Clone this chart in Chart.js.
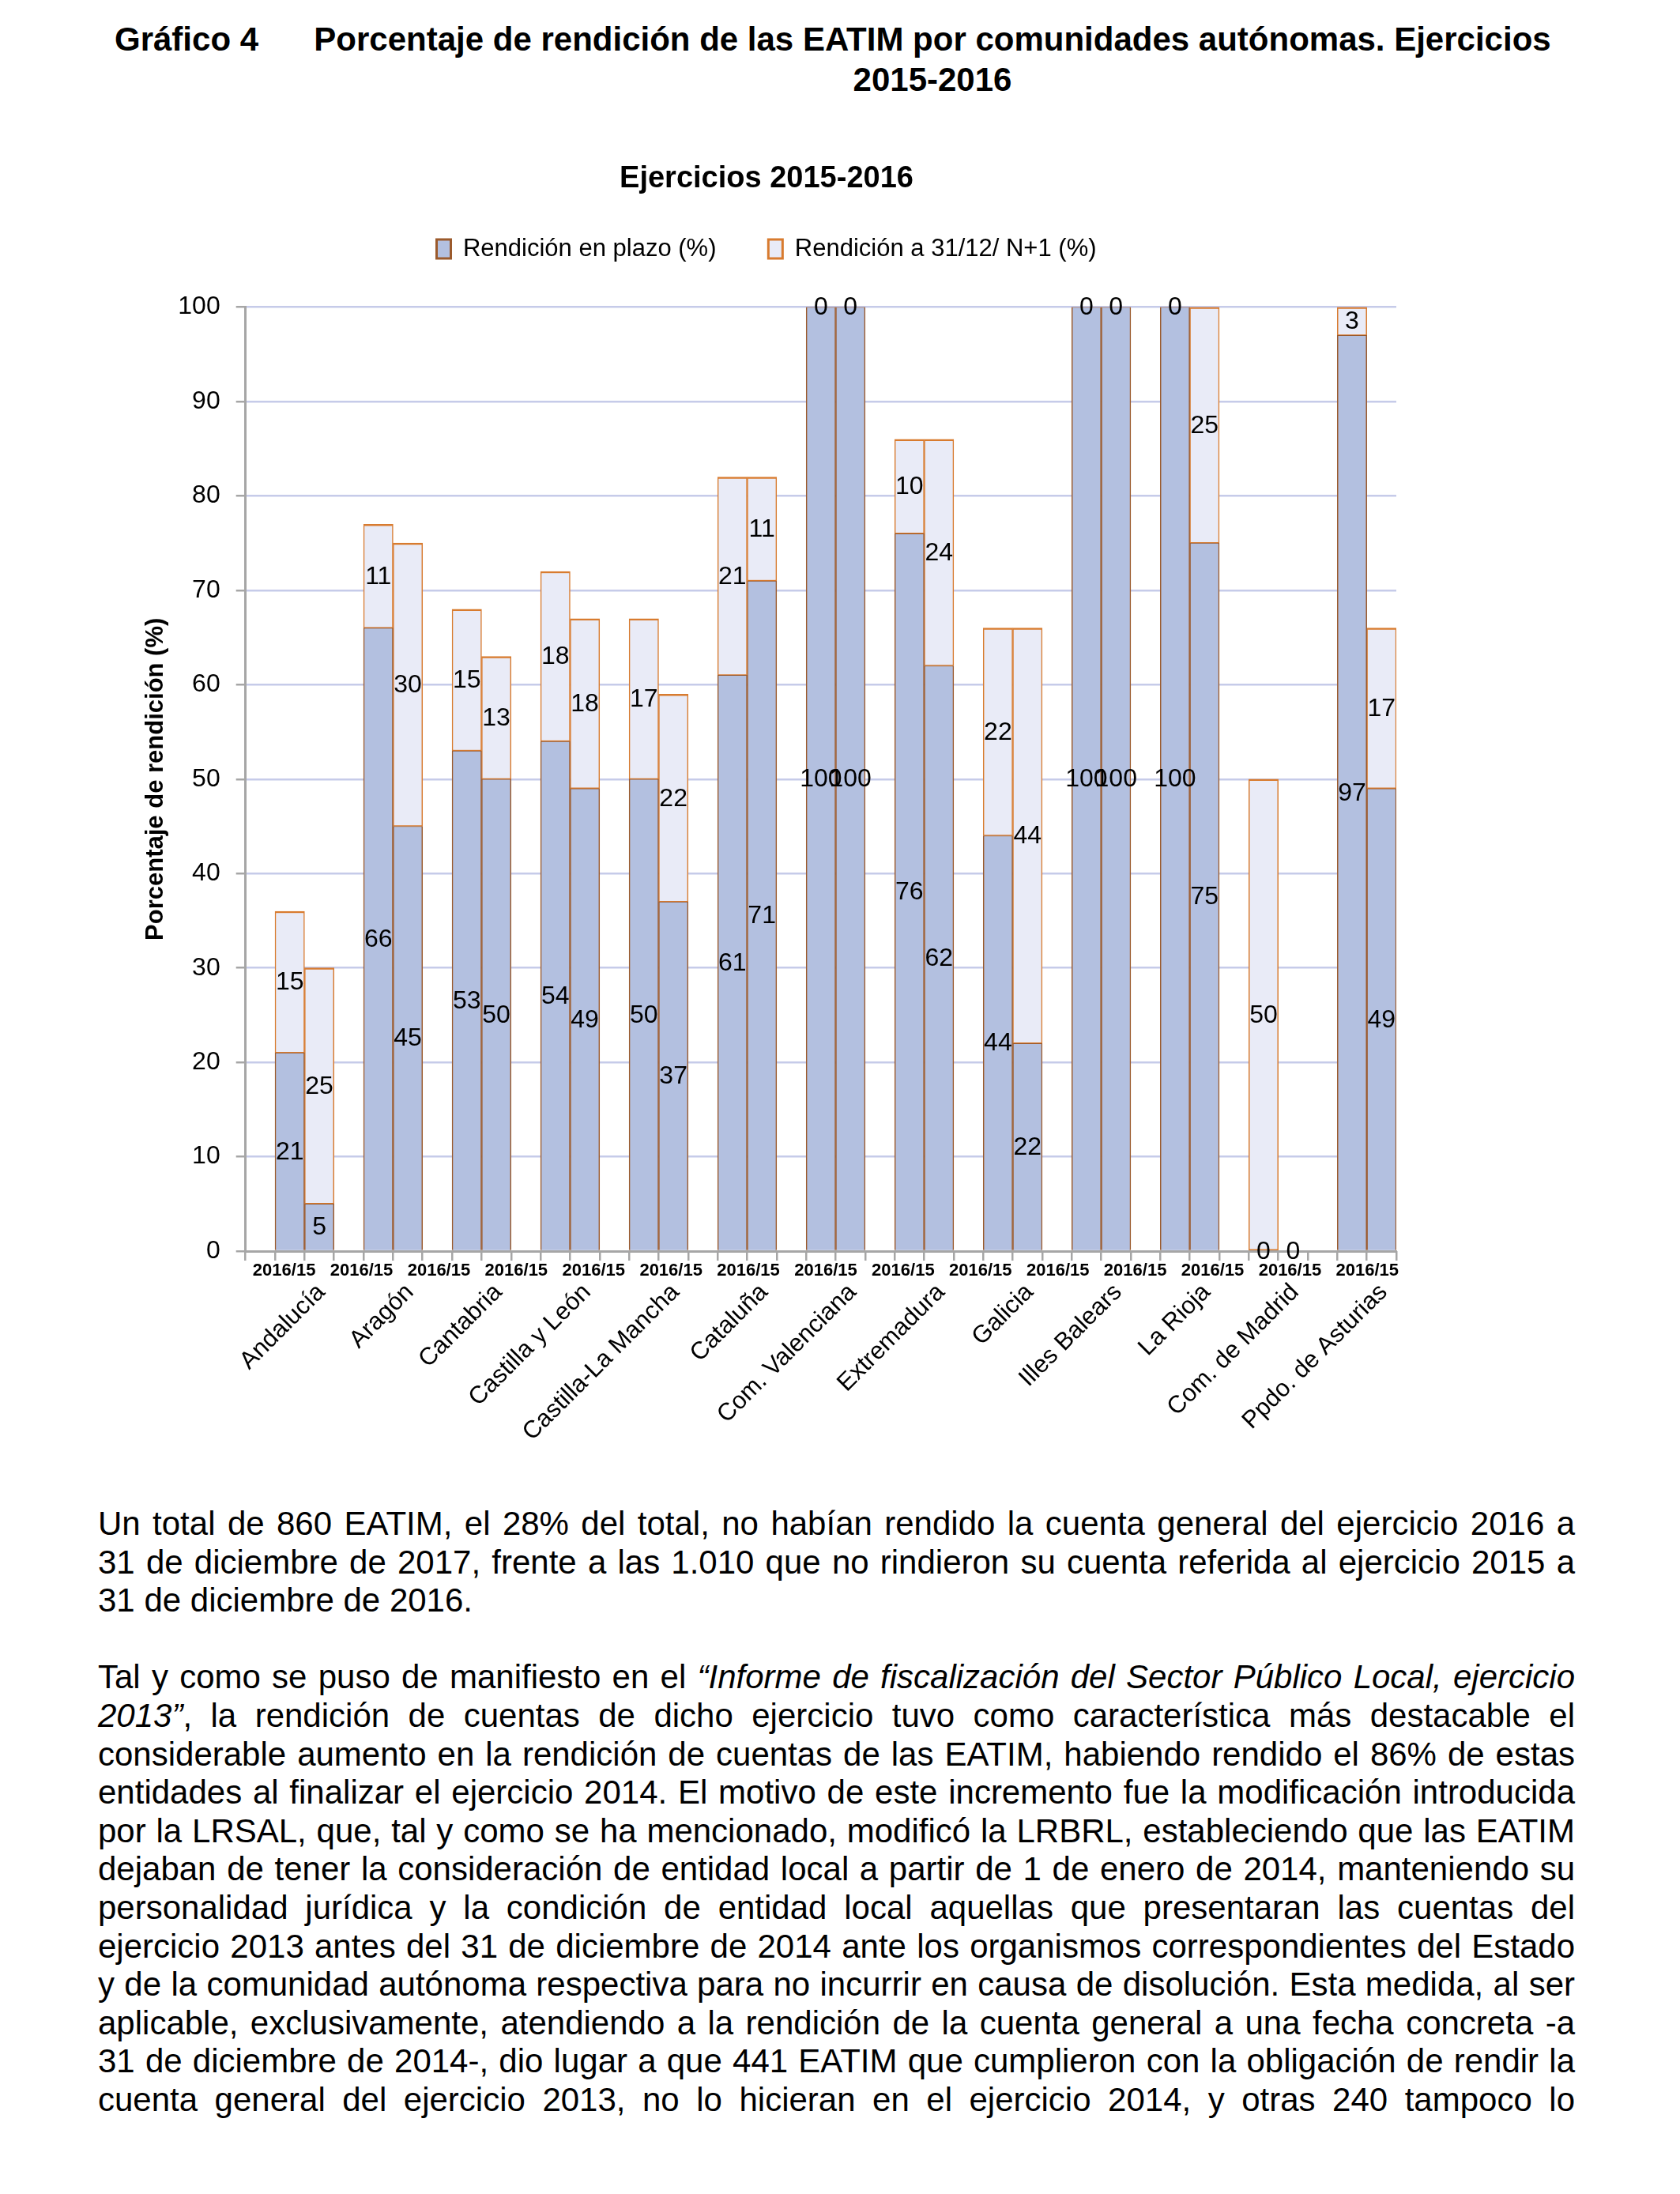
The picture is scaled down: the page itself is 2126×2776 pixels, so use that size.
<!DOCTYPE html>
<html lang="es">
<head>
<meta charset="utf-8">
<title>Gráfico 4</title>
<script src="https://cdn.jsdelivr.net/npm/chart.js@4.4.1/dist/chart.umd.min.js"></script>
<style>
  html, body { margin: 0; padding: 0; background: #fff; }
  body { width: 2126px; height: 2776px; position: relative; overflow: hidden;
         font-family: "Liberation Sans", Arial, sans-serif; color: #000; }
  .cap { position: absolute; top: 24px; font-weight: bold; font-size: 42px; line-height: 51px; white-space: nowrap; }
  #capNum { left: 145px; }
  #capTxt { left: 393px; width: 1574px; text-align: center; }
  #caja { position: absolute; left: 173px; top: 190px; width: 1634px; height: 1672px; }
  #texto { position: absolute; left: 124px; top: 1904px; width: 1869px; font-size: 42px; line-height: 48.6px; }
  #texto div { text-align: justify; text-align-last: justify; }
  #texto div.fin { text-align-last: left; }
  #texto .sep { height: 48.6px; }
</style>
</head>
<body>

<div class="cap" id="capNum">Gráfico 4</div>
<div class="cap" id="capTxt">Porcentaje de rendición de las EATIM por comunidades autónomas. Ejercicios<br>2015-2016</div>

<div id="caja"><canvas id="grafico"></canvas></div>

<div id="texto">
  <div>Un total de 860 EATIM, el 28% del total, no habían rendido la cuenta general del ejercicio 2016 a</div>
  <div>31 de diciembre de 2017, frente a las 1.010 que no rindieron su cuenta referida al ejercicio 2015 a</div>
  <div class="fin">31 de diciembre de 2016.</div>
  <div class="sep"></div>
  <div>Tal y como se puso de manifiesto en el <i>“Informe de fiscalización del Sector Público Local, ejercicio</i></div>
  <div><i>2013”</i>, la rendición de cuentas de dicho ejercicio tuvo como característica más destacable el</div>
  <div>considerable aumento en la rendición de cuentas de las EATIM, habiendo rendido el 86% de estas</div>
  <div>entidades al finalizar el ejercicio 2014. El motivo de este incremento fue la modificación introducida</div>
  <div>por la LRSAL, que, tal y como se ha mencionado, modificó la LRBRL, estableciendo que las EATIM</div>
  <div>dejaban de tener la consideración de entidad local a partir de 1 de enero de 2014, manteniendo su</div>
  <div>personalidad jurídica y la condición de entidad local aquellas que presentaran las cuentas del</div>
  <div>ejercicio 2013 antes del 31 de diciembre de 2014 ante los organismos correspondientes del Estado</div>
  <div>y de la comunidad autónoma respectiva para no incurrir en causa de disolución. Esta medida, al ser</div>
  <div>aplicable, exclusivamente, atendiendo a la rendición de la cuenta general a una fecha concreta -a</div>
  <div>31 de diciembre de 2014-, dio lugar a que 441 EATIM que cumplieron con la obligación de rendir la</div>
  <div>cuenta general del ejercicio 2013, no lo hicieran en el ejercicio 2014, y otras 240 tampoco lo</div>
</div>

<script>
// datos (primera barra 2016, segunda 2015)
const regiones = ['Andalucía', 'Aragón', 'Cantabria', 'Castilla y León', 'Castilla-La Mancha', 'Cataluña',
  'Com. Valenciana', 'Extremadura', 'Galicia', 'Illes Balears', 'La Rioja', 'Com. de Madrid', 'Ppdo. de Asturias'];
const plazo2016 = [21, 66, 53, 54, 50, 61, 100, 76, 44, 100, 100, 0, 97];
const resto2016 = [15, 11, 15, 18, 17, 21, 0, 10, 22, 0, 0, 50, 3];
const plazo2015 = [5, 45, 50, 49, 37, 71, 100, 62, 22, 100, 75, 0, 49];
const resto2015 = [25, 30, 13, 18, 22, 11, 0, 24, 44, 0, 25, null, 17];
const marcasY = [0, 10, 20, 30, 40, 50, 60, 70, 80, 90, 100];
const etiquetaAnio = '2016/15';
const nombrePlazo = 'Rendición en plazo (%)';
const nombreResto = 'Rendición a 31/12/ N+1 (%)';

const fuente = '"Liberation Sans", Arial, sans-serif';
const azul = '#b3c0e0', bordeAzul = '#9b5a2c';
const claro = '#e9ebf7', bordeClaro = '#d87b2f';
const gris = '#a6a6a6';

// cada comunidad ocupa 3 huecos: uno vacio y las dos barras
const huecos = regiones.length * 3;
const posAnio = Array.from({ length: 15 }, (_, k) => 1.31 + 2.622 * k);

const etiquetas = {
  id: 'etiquetas',
  afterDatasetsDraw(chart) {
    const ctx = chart.ctx;
    ctx.save();
    ctx.font = '32px ' + fuente;
    ctx.fillStyle = '#000';
    ctx.textAlign = 'center';
    ctx.textBaseline = 'middle';
    chart.data.datasets.forEach((ds, i) => {
      if (!ds.conEtiqueta) return;
      chart.getDatasetMeta(i).data.forEach((bar, j) => {
        const v = ds.data[j];
        if (v === null || v === undefined) return;
        const p = bar.getCenterPoint();
        ctx.fillText(String(v), p.x, p.y + 1);
      });
    });
    ctx.restore();
  }
};

const bordePlazo = { top: 1, left: 1.5, right: 1.5, bottom: 0 };
const bordeResto = { top: 2.5, left: 1.5, right: 1.5, bottom: 1.5 };

new Chart(document.getElementById('grafico'), {
  type: 'bar',
  data: {
    labels: regiones,
    datasets: [
      { label: '', data: regiones.map(() => null), stack: 'hueco', backgroundColor: 'rgba(0,0,0,0)', borderWidth: 0 },
      { label: nombrePlazo, data: plazo2016, stack: 'a', backgroundColor: azul, borderColor: bordeAzul, borderWidth: bordePlazo, conEtiqueta: true },
      { label: nombreResto, data: resto2016, stack: 'a', backgroundColor: claro, borderColor: bordeClaro, borderWidth: bordeResto, borderSkipped: false, conEtiqueta: true },
      { label: nombrePlazo, data: plazo2015, stack: 'b', backgroundColor: azul, borderColor: bordeAzul, borderWidth: bordePlazo, conEtiqueta: true },
      { label: nombreResto, data: resto2015, stack: 'b', backgroundColor: claro, borderColor: bordeClaro, borderWidth: bordeResto, borderSkipped: false, conEtiqueta: true }
    ]
  },
  options: {
    responsive: true,
    maintainAspectRatio: false,
    animation: false,
    layout: { padding: { left: 0, right: 40, top: 0, bottom: 0 } },
    datasets: { bar: { barPercentage: 1, categoryPercentage: 1, skipNull: false, xAxisID: 'x', yAxisID: 'y' } },
    plugins: {
      title: {
        display: true,
        text: 'Ejercicios 2015-2016',
        color: '#000',
        font: { family: fuente, size: 38, weight: 'bold' },
        padding: { top: 14, bottom: 10 }
      },
      legend: {
        display: true,
        position: 'top',
        labels: {
          color: '#000',
          font: { family: fuente, size: 31 },
          boxWidth: 18,
          boxHeight: 24,
          padding: 40,
          generateLabels: (chart) => Chart.defaults.plugins.legend.labels.generateLabels(chart)
            .filter(it => it.datasetIndex === 1 || it.datasetIndex === 2)
            .map(it => Object.assign(it, {
              lineWidth: 3,
              text: it.datasetIndex === 1 ? it.text + '\u00a0\u00a0\u00a0' : it.text
            }))
        }
      },
      tooltip: { enabled: false }
    },
    scales: {
      y: {
        stacked: true,
        min: 0,
        max: 100,
        afterBuildTicks: (s) => { s.ticks = marcasY.map(v => ({ value: v })); },
        afterFit: (s) => { s.width = 137.7; },
        ticks: { color: '#000', font: { family: fuente, size: 32 }, padding: 20 },
        grid: {
          color: (c) => (c.tick && c.tick.value === 0) ? 'rgba(0,0,0,0)' : '#c6cbe9',
          lineWidth: 2.5,
          tickColor: gris,
          tickLength: 12,
          tickWidth: 2.5
        },
        border: { display: true, color: gris, width: 3 },
        title: {
          display: true,
          text: 'Porcentaje de rendición (%)',
          color: '#000',
          font: { family: fuente, size: 31, weight: 'bold' },
          padding: { top: 6, bottom: 0 }
        }
      },
      xtop: {
        type: 'category',
        position: 'top',
        labels: regiones,
        grid: { display: false, drawTicks: false },
        border: { display: false },
        ticks: { display: false },
        afterFit: (s) => { s.height = 48; }
      },
      x: {
        type: 'category',
        stacked: true,
        offset: true,
        weight: 1,
        grid: { display: false, drawTicks: false },
        border: { display: true, color: gris, width: 3 },
        ticks: { display: false }
      },
      xs: {
        type: 'category',
        position: 'bottom',
        weight: 2,
        labels: Array.from({ length: huecos }, () => ''),
        offset: true,
        grid: { display: true, offset: true, drawOnChartArea: false, drawTicks: true, tickLength: 12,
                color: gris, tickColor: gris, lineWidth: 2.5, tickWidth: 2.5 },
        border: { display: false },
        ticks: { display: false, autoSkip: false }
      },
      xl: {
        type: 'linear',
        position: 'bottom',
        weight: 3,
        min: 0,
        max: huecos,
        offset: false,
        afterBuildTicks: (s) => { s.ticks = posAnio.map(v => ({ value: v })); },
        afterFit: (s) => { s.height = 22; },
        grid: { display: false, drawTicks: false, offset: false },
        border: { display: false },
        ticks: {
          color: '#000',
          font: { family: fuente, size: 22, weight: 'bold' },
          padding: 0,
          autoSkip: false,
          maxRotation: 0,
          minRotation: 0,
          callback: () => etiquetaAnio
        }
      },
      x2: {
        type: 'category',
        position: 'bottom',
        weight: 4,
        labels: regiones,
        offset: true,
        afterFit: (s) => { s.height = 245; },
        grid: { display: false, drawTicks: false },
        border: { display: false },
        ticks: {
          color: '#000',
          font: { family: fuente, size: 31 },
          minRotation: 45,
          maxRotation: 45,
          autoSkip: false,
          padding: 0,
          labelOffset: 40
        }
      }
    }
  },
  plugins: [etiquetas]
});
</script>
</body>
</html>
